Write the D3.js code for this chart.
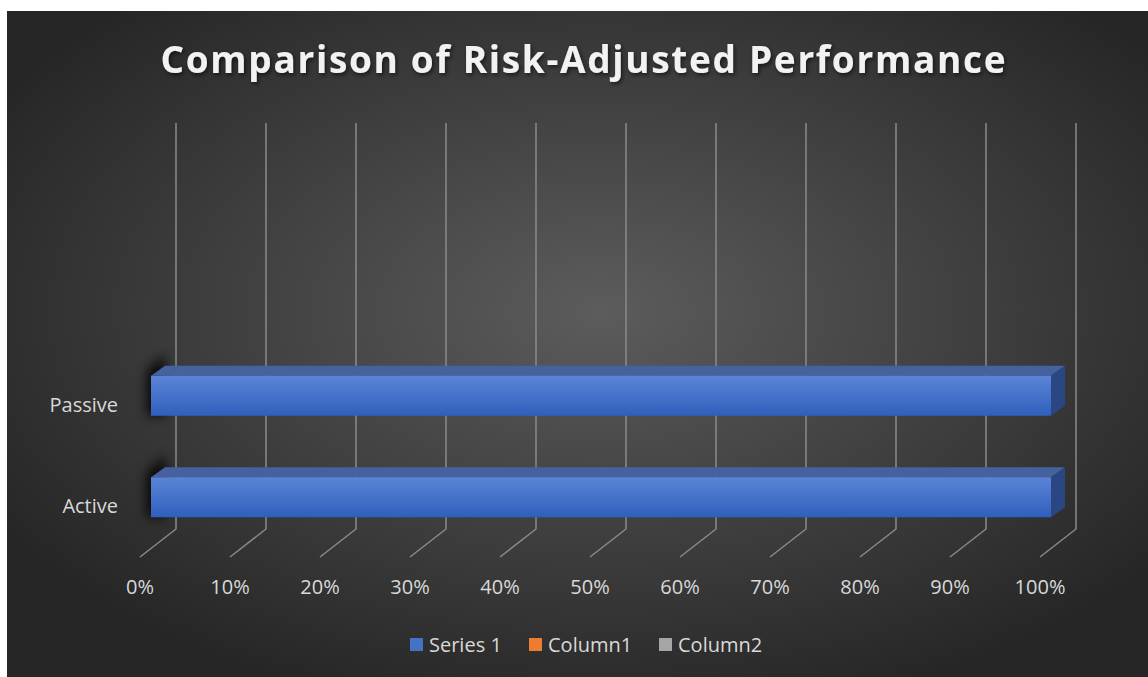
<!DOCTYPE html>
<html>
<head>
<meta charset="utf-8">
<script src="https://cdn.jsdelivr.net/npm/d3@7"></script>
<style>
  html, body { margin: 0; padding: 0; background: #fff; }
  svg { display: block; }
</style>
</head>
<body>
<svg id="chart" width="1148" height="677"></svg>
<script>
// data
var categories = ["Active", "Passive"];
var series1 = [1, 1];
var column1 = [0, 0];
var column2 = [0, 0];
var seriesNames = ["Series 1", "Column1", "Column2"];
var seriesColors = ["#4472c4", "#ed7d31", "#a5a5a5"];
var ticks = [0, 0.1, 0.2, 0.3, 0.4, 0.5, 0.6, 0.7, 0.8, 0.9, 1];

var svg = d3.select("#chart");
var defs = svg.append("defs");

// background
var bg = defs.append("radialGradient").attr("id", "bg")
  .attr("cx", "52%").attr("cy", "45%").attr("r", "62%");
bg.append("stop").attr("offset", "0%").attr("stop-color", "#5c5c5c");
bg.append("stop").attr("offset", "100%").attr("stop-color", "#262626");

var front = defs.append("linearGradient").attr("id", "barFront")
  .attr("x1", 0).attr("y1", 0).attr("x2", 0).attr("y2", 1);
front.append("stop").attr("offset", "0%").attr("stop-color", "#5b84d6");
front.append("stop").attr("offset", "100%").attr("stop-color", "#2f5fbd");

var blur = defs.append("filter").attr("id", "blur")
  .attr("x", "-150%").attr("y", "-50%").attr("width", "400%").attr("height", "200%");
blur.append("feGaussianBlur").attr("stdDeviation", 6);

var tshadow = defs.append("filter").attr("id", "tshadow");
tshadow.append("feDropShadow").attr("dx", 1.5).attr("dy", 2).attr("stdDeviation", 2)
  .attr("flood-color", "#000").attr("flood-opacity", 0.6);

svg.append("rect").attr("x", 7).attr("y", 11).attr("width", 1141).attr("height", 666)
  .attr("fill", "url(#bg)");

// title
svg.append("text")
  .attr("x", 583).attr("y", 73)
  .attr("text-anchor", "middle")
  .attr("textLength", 845).attr("lengthAdjust", "spacing")
  .style("font-family", "'Open Sans', sans-serif")
  .style("font-weight", "bold")
  .style("font-size", "37px")
  .attr("fill", "#f2f2f2")
  .attr("filter", "url(#tshadow)")
  .text("Comparison of Risk-Adjusted Performance");

// scales
var depthX = 36, depthY = -28;      // floor depth (front -> back wall)
var floorY = 557, wallTop = 123;
var x = d3.scaleLinear().domain([0, 1]).range([140, 1040]);
var xBar = d3.scaleLinear().domain([0, 1]).range([151, 1051]);
var y = d3.scalePoint().domain(categories).range([548, 345]).padding(0.5);
var barH = 40, barDx = 14, barDy = -10;

// gridlines: wall verticals + floor diagonals
var grid = svg.append("g");
ticks.forEach(function(t) {
  grid.append("path")
    .attr("d", "M" + (x(t) + depthX) + "," + wallTop +
               "V" + (floorY + depthY) +
               "L" + x(t) + "," + floorY)
    .attr("fill", "none")
    .attr("stroke", "#8a8a8a")
    .attr("stroke-width", 1.5);
});

// tick labels
svg.append("g").selectAll("text").data(ticks).join("text")
  .attr("x", function(d) { return x(d); })
  .attr("y", 594)
  .attr("text-anchor", "middle")
  .style("font-family", "'Open Sans', sans-serif")
  .style("font-size", "20px")
  .attr("fill", "#d9d9d9")
  .text(d3.format(".0%"));

// category labels
svg.append("g").selectAll("text").data(categories).join("text")
  .attr("x", 118)
  .attr("y", function(d) { return y(d) + 16; })
  .attr("text-anchor", "end")
  .style("font-family", "'Open Sans', sans-serif")
  .style("font-size", "20px")
  .attr("fill", "#d9d9d9")
  .text(function(d) { return d; });

// bars
var bars = categories.map(function(c, i) {
  return { cat: c, s1: series1[i], c1: column1[i], c2: column2[i] };
});

var g = svg.append("g");
bars.forEach(function(d) {
  var top = y(d.cat) - barH / 2;
  var x0 = xBar(0), x1 = xBar(d.s1);
  // shadow on the left
  g.append("path")
    .attr("d", "M" + (x0 - 4) + "," + (top + barH) + "V" + (top - 4) +
               "L" + (x0 + 14) + "," + (top - 22) + "V" + (top + barH) + "Z")
    .attr("fill", "#000").attr("opacity", 0.9)
    .attr("filter", "url(#blur)");
  // top face
  g.append("path")
    .attr("d", "M" + x0 + "," + top + "L" + (x0 + barDx) + "," + (top + barDy) +
               "H" + (x1 + barDx) + "L" + x1 + "," + top + "Z")
    .attr("fill", "#45629e");
  // side face
  g.append("path")
    .attr("d", "M" + x1 + "," + top + "L" + (x1 + barDx) + "," + (top + barDy) +
               "V" + (top + barDy + barH) + "L" + x1 + "," + (top + barH) + "Z")
    .attr("fill", "#2a4683");
  // front face
  g.append("rect")
    .attr("x", x0).attr("y", top)
    .attr("width", x1 - x0).attr("height", barH)
    .attr("fill", "url(#barFront)");
});

// legend
var legendX = [410, 529, 659];
var legend = svg.append("g");
seriesNames.forEach(function(name, i) {
  legend.append("rect")
    .attr("x", legendX[i]).attr("y", 638)
    .attr("width", 13).attr("height", 13)
    .attr("fill", seriesColors[i]);
  legend.append("text")
    .attr("x", legendX[i] + 19).attr("y", 652)
    .style("font-family", "'Open Sans', sans-serif")
    .style("font-size", "20px")
    .attr("fill", "#d9d9d9")
    .text(name);
});
</script>
</body>
</html>
